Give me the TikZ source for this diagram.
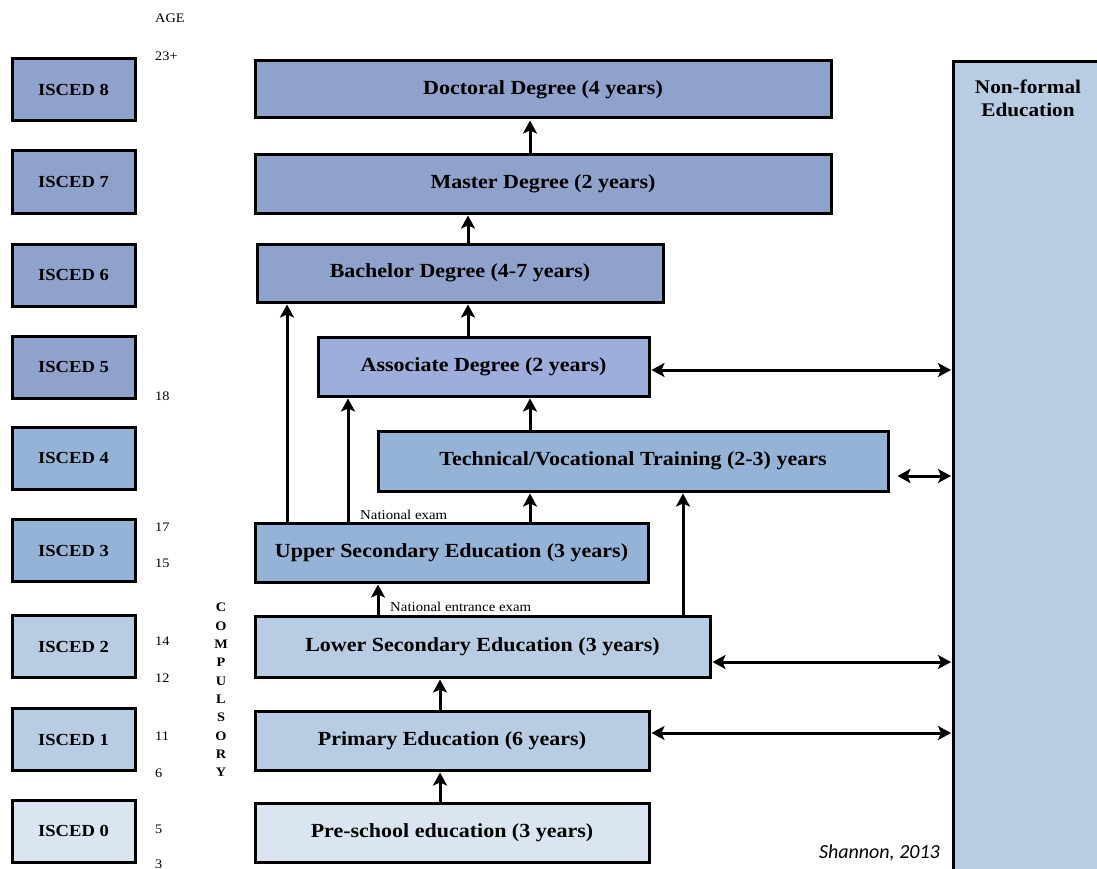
\documentclass[tikz,border=0pt]{standalone}
\usepackage{fontspec}
\setmainfont[FakeStretch=1.1]{Liberation Serif}
\newfontfamily\capfont{Carlito}
\usetikzlibrary{arrows.meta}
\definecolor{lav}{HTML}{8FA2CC}
\definecolor{lavlight}{HTML}{9EAEDC}
\definecolor{midblue}{HTML}{95B3D7}
\definecolor{lightblue}{HTML}{B8CCE4}
\definecolor{paleblue}{HTML}{DBE5F1}
\tikzset{
  box/.style={draw=black, line width=3pt, rectangle, inner sep=0pt,
    font=\bfseries\fontsize{20}{23}\selectfont},
  lvl/.style={box, minimum width=123pt, minimum height=62pt, font=\bfseries\fontsize{16.9}{19}\selectfont},
  age/.style={font=\fontsize{13}{15}\selectfont, anchor=west, inner sep=0pt},
  note/.style={font=\fontsize{13.5}{15}\selectfont, anchor=west, inner sep=0pt},
  arr/.style={line width=3pt, -{Stealth[length=13pt,width=14pt,inset=3pt]}, shorten >=1pt},
  darr/.style={line width=3pt, {Stealth[length=13pt,width=14pt,inset=3pt]}-{Stealth[length=13pt,width=14pt,inset=3pt]}, shorten >=1pt, shorten <=1pt},
}
\begin{document}
\begin{tikzpicture}[x=1pt,y=-1pt]
\useasboundingbox (0,0) rectangle (1097,869);

% ISCED levels
\node[lvl, fill=lav]        (i8) at (73.5,89.5)  {ISCED 8};
\node[lvl, fill=lav]        (i7) at (73.5,182)   {ISCED 7};
\node[lvl, fill=lav]        (i6) at (73.5,275)   {ISCED 6};
\node[lvl, fill=lav]        (i5) at (73.5,367)   {ISCED 5};
\node[lvl, fill=midblue]    (i4) at (73.5,458)   {ISCED 4};
\node[lvl, fill=midblue]    (i3) at (73.5,550.5) {ISCED 3};
\node[lvl, fill=lightblue]  (i2) at (73.5,646.5) {ISCED 2};
\node[lvl, fill=lightblue]  (i1) at (73.5,739.5) {ISCED 1};
\node[lvl, fill=paleblue]   (i0) at (73.5,831)   {ISCED 0};

% ages
\node[age] (aAge) at (155,18) {AGE};
\node[age] (a23) at (155,56) {23+};
\node[age] (a18) at (155,396) {18};
\node[age] (a17) at (155,527) {17};
\node[age] (a15) at (155,563) {15};
\node[age] (a14) at (155,641) {14};
\node[age] (a12) at (155,678) {12};
\node[age] (a11) at (155,736) {11};
\node[age] (a6)  at (155,773) {6};
\node[age] (a5)  at (155,829) {5};
\node[age] (a3)  at (155,864) {3};

\node[font=\bfseries\fontsize{13}{18.3}\selectfont, align=center, inner sep=0pt] (comp) at (221,690)
  {C\\O\\M\\P\\U\\L\\S\\O\\R\\Y};

% programmes
\node[box, fill=lav, minimum width=576pt, minimum height=57pt] (doc) at (543,89.5) {Doctoral Degree (4 years)};
\node[box, fill=lav, minimum width=576pt, minimum height=58pt] (mas) at (543,184) {Master Degree (2 years)};
\node[box, fill=lav, minimum width=406pt, minimum height=58pt] (bac) at (460,273) {Bachelor Degree (4-7 years)};
\node[box, fill=lavlight, minimum width=331pt, minimum height=59pt] (ass) at (483.5,366.5) {Associate Degree (2 years)};
\node[box, fill=midblue, minimum width=510pt, minimum height=60pt] (tec) at (633,461) {Technical/Vocational Training (2-3) years};
\node[box, fill=midblue, minimum width=393pt, minimum height=59pt] (ups) at (451.5,552.5) {Upper Secondary Education (3 years)};
\node[box, fill=lightblue, minimum width=455pt, minimum height=61pt] (los) at (482.5,646.5) {Lower Secondary Education (3 years)};
\node[box, fill=lightblue, minimum width=394pt, minimum height=59pt] (pri) at (452,740.5) {Primary Education (6 years)};
\node[box, fill=paleblue, minimum width=394pt, minimum height=59pt] (pre) at (452,832.5) {Pre-school education (3 years)};

% non-formal column (runs off the right and bottom edges)
\node[box, fill=lightblue, minimum width=150pt, minimum height=820pt, anchor=north west] (nf) at (952,60) {};
\node[font=\bfseries\fontsize{19.3}{23}\selectfont, align=center, inner sep=0pt] (nft) at (1028,98) {Non-formal\\Education};

\node[font=\capfont\itshape\fontsize{20}{22}\selectfont, anchor=east, inner sep=0pt] (src) at (940,853) {Shannon, 2013};

% x positions of the vertical connectors
\coordinate (x287) at (287,0);
\coordinate (x348) at (348,0);
\coordinate (x378) at (378,0);
\coordinate (x440) at (440,0);
\coordinate (x468) at (468,0);
\coordinate (x530) at (530,0);
\coordinate (x683) at (683,0);

\draw[arr] (mas.north -| x530) -- (doc.south -| x530);
\draw[arr] (bac.north -| x468) -- (mas.south -| x468);
\draw[arr] (ass.north -| x468) -- (bac.south -| x468);
\draw[arr] (tec.north -| x530) -- (ass.south -| x530);
\draw[arr] (ups.north -| x530) -- (tec.south -| x530);
\draw[arr] (ups.north -| x287) -- (bac.south -| x287);
\draw[arr] (ups.north -| x348) -- (ass.south -| x348);
\draw[arr] (los.north -| x378) -- (ups.south -| x378);
\draw[arr] (los.north -| x683) -- (tec.south -| x683);
\draw[arr] (pri.north -| x440) -- (los.south -| x440);
\draw[arr] (pre.north -| x440) -- (pri.south -| x440);

\node[note] (ne) at (360,515) {National exam};
\node[note] (nee) at (390,607) {National entrance exam};

% links with non-formal education
\draw[darr] ([yshift=-3.5pt]ass.east) -- ([yshift=-3.5pt]ass.east -| nf.west);
\draw[darr] ([xshift=7pt,yshift=-15pt]tec.east) -- ([yshift=-15pt]tec.east -| nf.west);
\draw[darr] ([yshift=-15.5pt]los.east) -- ([yshift=-15.5pt]los.east -| nf.west);
\draw[darr] ([yshift=7.5pt]pri.east) -- ([yshift=7.5pt]pri.east -| nf.west);
\end{tikzpicture}
\end{document}
